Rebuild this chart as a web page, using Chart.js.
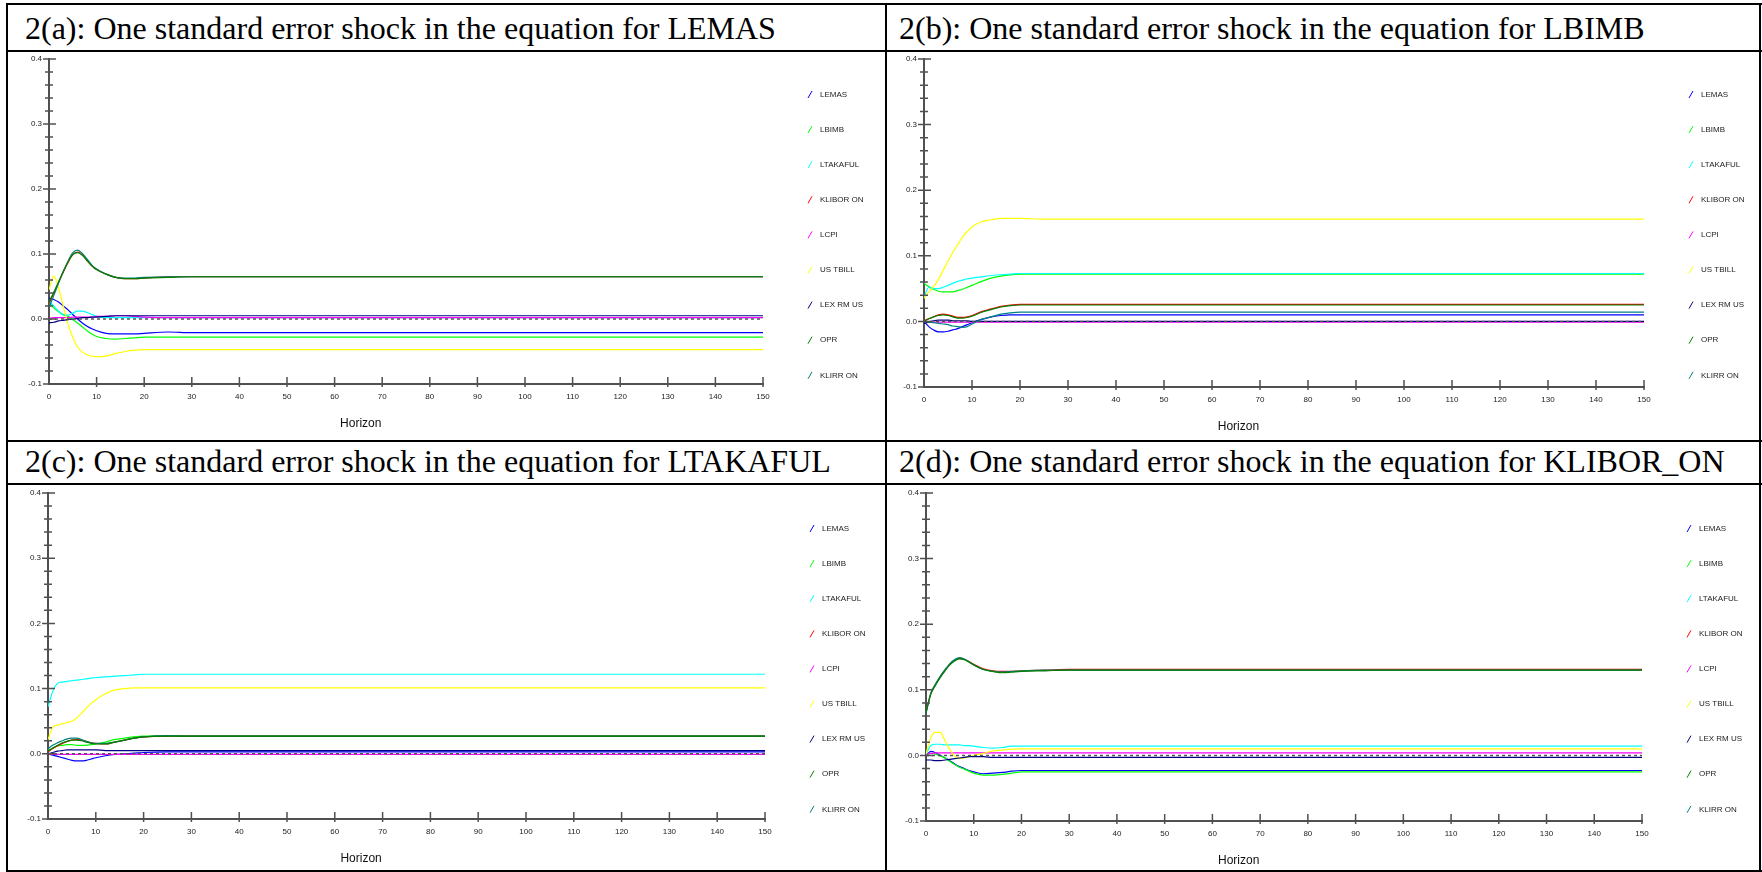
<!DOCTYPE html>
<html>
<head>
<meta charset="utf-8">
<script src="https://cdn.jsdelivr.net/npm/chart.js@4.4.1/dist/chart.umd.min.js"></script>
<style>
    html, body { margin: 0; padding: 0; background: #fff; }
    body { width: 1762px; height: 872px; position: relative; overflow: hidden; }
    .rule { position: absolute; background: #000; }
    .head { position: absolute; font: 32px/32px "Liberation Serif", "Times New Roman", serif; color: #000; white-space: nowrap; }
    canvas { position: absolute; }
</style>
</head>
<body>
<!-- table rules -->
<div class="rule" style="left:6px;top:3px;width:1756px;height:2px"></div>
<div class="rule" style="left:6px;top:50px;width:1756px;height:2px"></div>
<div class="rule" style="left:6px;top:440px;width:1756px;height:2px"></div>
<div class="rule" style="left:6px;top:483px;width:1756px;height:2px"></div>
<div class="rule" style="left:6px;top:870px;width:1756px;height:2px"></div>
<div class="rule" style="left:6px;top:3px;width:2px;height:869px"></div>
<div class="rule" style="left:885px;top:3px;width:2px;height:869px"></div>
<div class="rule" style="left:1759px;top:3px;width:2px;height:869px"></div>

<div class="head" style="left:25px;top:12px">2(a): One standard error shock in the equation for LEMAS</div>
<div class="head" style="left:899px;top:12px">2(b): One standard error shock in the equation for LBIMB</div>
<div class="head" style="left:25px;top:445px">2(c): One standard error shock in the equation for LTAKAFUL</div>
<div class="head" style="left:899px;top:445px">2(d): One standard error shock in the equation for KLIBOR_ON</div>

<canvas id="chartA" width="881" height="440" style="left:0;top:0"></canvas>
<canvas id="chartB" width="881" height="440" style="left:881px;top:0"></canvas>
<canvas id="chartC" width="881" height="432" style="left:0;top:440px"></canvas>
<canvas id="chartD" width="881" height="432" style="left:881px;top:440px"></canvas>

<script>
// horizons (curves are flat after ~30)
const HORIZON = [0, 1, 2, 3, 4, 5, 6, 7, 8, 9, 10, 12, 14, 16, 18, 20, 25, 30, 150];
const SERIES = ['LEMAS', 'LBIMB', 'LTAKAFUL', 'KLIBOR ON', 'LCPI', 'US TBILL', 'LEX RM US', 'OPR', 'KLIRR ON'];
const COLORS = ['#0000ff', '#00ff00', '#00ffff', '#ff0000', '#ff00ff', '#ffff00', '#000080', '#008000', '#008080'];
const X_TICKS = [0, 10, 20, 30, 40, 50, 60, 70, 80, 90, 100, 110, 120, 130, 140, 150];
const Y_TICKS = [-0.1, 0.0, 0.1, 0.2, 0.3, 0.4];
const X_TITLE = 'Horizon';

// 2(a) shock to LEMAS
const A_LEMAS    = [0.032, 0.030, 0.026, 0.020, 0.014, 0.007, 0.000, -0.006, -0.011, -0.015, -0.018, -0.022, -0.023, -0.023, -0.023, -0.022, -0.020, -0.021, -0.021];
const A_LBIMB    = [0.026, 0.017, 0.011, 0.007, 0.004, -0.001, -0.006, -0.012, -0.018, -0.023, -0.027, -0.030, -0.031, -0.030, -0.029, -0.028, -0.028, -0.028, -0.028];
const A_LTAKAFUL = [0.028, 0.020, 0.012, 0.006, 0.006, 0.009, 0.012, 0.012, 0.010, 0.007, 0.004, 0.002, 0.002, 0.002, 0.002, 0.002, 0.002, 0.002, 0.002];
const A_KLIBOR   = [0.024, 0.040, 0.056, 0.072, 0.087, 0.099, 0.103, 0.099, 0.090, 0.082, 0.076, 0.069, 0.064, 0.062, 0.062, 0.063, 0.065, 0.065, 0.065];
const A_LCPI     = [0.001, 0.002, 0.002, 0.002, 0.002, 0.003, 0.003, 0.003, 0.003, 0.003, 0.004, 0.004, 0.005, 0.005, 0.004, 0.003, 0.002, 0.002, 0.002];
const A_USTBILL  = [0.045, 0.066, 0.048, 0.020, -0.008, -0.028, -0.043, -0.051, -0.055, -0.057, -0.058, -0.057, -0.053, -0.050, -0.048, -0.047, -0.047, -0.047, -0.047];
const A_LEX      = [-0.006, -0.005, -0.003, -0.002, -0.001, 0.000, 0.001, 0.002, 0.002, 0.003, 0.003, 0.004, 0.005, 0.005, 0.005, 0.005, 0.005, 0.005, 0.005];
const A_OPR      = [0.026, 0.041, 0.057, 0.073, 0.088, 0.099, 0.102, 0.098, 0.090, 0.082, 0.076, 0.069, 0.064, 0.062, 0.062, 0.063, 0.064, 0.065, 0.065];
const A_KLIRR    = [0.018, 0.036, 0.055, 0.073, 0.089, 0.102, 0.106, 0.101, 0.092, 0.083, 0.077, 0.069, 0.064, 0.063, 0.063, 0.064, 0.065, 0.065, 0.065];

// 2(b) shock to LBIMB
const B_LEMAS    = [0.000, -0.008, -0.013, -0.016, -0.016, -0.015, -0.013, -0.011, -0.008, -0.005, -0.002, 0.003, 0.007, 0.009, 0.010, 0.010, 0.010, 0.010, 0.010];
const B_LBIMB    = [0.058, 0.053, 0.049, 0.046, 0.045, 0.045, 0.045, 0.047, 0.049, 0.052, 0.055, 0.061, 0.066, 0.069, 0.071, 0.072, 0.072, 0.072, 0.072];
const B_LTAKAFUL = [0.037, 0.052, 0.050, 0.050, 0.052, 0.055, 0.058, 0.061, 0.063, 0.065, 0.066, 0.068, 0.070, 0.071, 0.072, 0.073, 0.073, 0.073, 0.073];
const B_KLIBOR   = [0.001, 0.004, 0.007, 0.010, 0.011, 0.010, 0.008, 0.006, 0.006, 0.007, 0.009, 0.015, 0.019, 0.023, 0.025, 0.026, 0.026, 0.026, 0.026];
const B_LCPI     = [0.000, -0.001, -0.001, -0.001, -0.001, -0.001, -0.001, -0.001, -0.001, -0.001, -0.001, -0.001, -0.001, -0.001, -0.001, -0.001, -0.001, -0.001, -0.001];
const B_USTBILL  = [0.035, 0.045, 0.053, 0.064, 0.078, 0.092, 0.105, 0.117, 0.128, 0.137, 0.144, 0.152, 0.155, 0.157, 0.157, 0.157, 0.156, 0.156, 0.156];
const B_LEX      = [-0.003, -0.001, 0.001, 0.002, 0.002, 0.002, 0.001, 0.001, 0.001, 0.001, 0.000, 0.000, 0.000, 0.000, 0.000, 0.000, 0.000, 0.000, 0.000];
const B_OPR      = [0.000, 0.004, 0.007, 0.009, 0.010, 0.009, 0.007, 0.005, 0.005, 0.006, 0.008, 0.014, 0.018, 0.022, 0.024, 0.025, 0.025, 0.025, 0.025];
const B_KLIRR    = [0.000, -0.001, -0.002, -0.003, -0.004, -0.005, -0.007, -0.008, -0.009, -0.008, -0.004, 0.003, 0.007, 0.011, 0.013, 0.014, 0.014, 0.014, 0.014];

// 2(c) shock to LTAKAFUL
const C_LEMAS    = [0.000, -0.002, -0.004, -0.006, -0.008, -0.010, -0.011, -0.011, -0.010, -0.008, -0.006, -0.003, -0.001, 0.000, 0.001, 0.002, 0.003, 0.003, 0.003];
const C_LBIMB    = [0.005, 0.009, 0.012, 0.013, 0.014, 0.014, 0.013, 0.013, 0.013, 0.014, 0.015, 0.018, 0.022, 0.024, 0.026, 0.027, 0.027, 0.027, 0.027];
const C_LTAKAFUL = [0.072, 0.096, 0.108, 0.110, 0.111, 0.112, 0.113, 0.114, 0.115, 0.116, 0.117, 0.118, 0.119, 0.120, 0.121, 0.122, 0.122, 0.122, 0.122];
const C_KLIBOR   = [0.003, 0.008, 0.012, 0.016, 0.019, 0.021, 0.022, 0.021, 0.019, 0.017, 0.016, 0.015, 0.018, 0.021, 0.024, 0.026, 0.027, 0.027, 0.027];
const C_LCPI     = [0.000, -0.001, -0.001, -0.001, -0.001, -0.001, -0.001, -0.001, -0.001, -0.001, -0.001, -0.001, -0.001, -0.001, -0.001, -0.001, -0.001, -0.001, -0.001];
const C_USTBILL  = [0.022, 0.041, 0.044, 0.046, 0.048, 0.050, 0.055, 0.062, 0.070, 0.077, 0.083, 0.092, 0.098, 0.100, 0.101, 0.101, 0.101, 0.101, 0.101];
const C_LEX      = [0.000, 0.002, 0.004, 0.005, 0.006, 0.006, 0.006, 0.006, 0.006, 0.006, 0.006, 0.005, 0.005, 0.005, 0.005, 0.005, 0.005, 0.005, 0.005];
const C_OPR      = [0.004, 0.009, 0.013, 0.017, 0.019, 0.021, 0.021, 0.020, 0.018, 0.016, 0.015, 0.015, 0.018, 0.021, 0.024, 0.026, 0.027, 0.027, 0.027];
const C_KLIRR    = [0.008, 0.013, 0.017, 0.020, 0.023, 0.024, 0.024, 0.022, 0.019, 0.017, 0.016, 0.016, 0.018, 0.021, 0.024, 0.026, 0.028, 0.027, 0.027];

// 2(d) shock to KLIBOR_ON
const D_LEMAS    = [0.000, 0.006, 0.004, 0.000, -0.004, -0.008, -0.013, -0.017, -0.020, -0.023, -0.025, -0.028, -0.027, -0.026, -0.024, -0.023, -0.023, -0.023, -0.023];
const D_LBIMB    = [0.000, 0.003, 0.002, -0.001, -0.004, -0.009, -0.014, -0.018, -0.021, -0.024, -0.027, -0.030, -0.030, -0.029, -0.027, -0.025, -0.025, -0.025, -0.025];
const D_LTAKAFUL = [0.002, 0.015, 0.017, 0.017, 0.016, 0.016, 0.016, 0.016, 0.015, 0.015, 0.014, 0.012, 0.011, 0.012, 0.014, 0.014, 0.014, 0.014, 0.014];
const D_KLIBOR   = [0.066, 0.094, 0.108, 0.120, 0.130, 0.139, 0.145, 0.148, 0.147, 0.143, 0.139, 0.132, 0.129, 0.128, 0.128, 0.129, 0.130, 0.131, 0.131];
const D_LCPI     = [0.001, 0.003, 0.004, 0.004, 0.004, 0.004, 0.004, 0.004, 0.004, 0.004, 0.004, 0.004, 0.004, 0.004, 0.004, 0.004, 0.004, 0.004, 0.004];
const D_USTBILL  = [0.002, 0.027, 0.035, 0.035, 0.022, 0.009, -0.001, -0.005, -0.004, -0.002, 0.000, 0.003, 0.007, 0.008, 0.0095, 0.010, 0.010, 0.010, 0.010];
const D_LEX      = [-0.007, -0.007, -0.008, -0.008, -0.007, -0.006, -0.005, -0.004, -0.003, -0.002, -0.002, -0.002, -0.003, -0.003, -0.003, -0.003, -0.003, -0.003, -0.003];
const D_OPR      = [0.065, 0.093, 0.107, 0.119, 0.129, 0.138, 0.144, 0.147, 0.146, 0.142, 0.138, 0.131, 0.128, 0.126, 0.127, 0.128, 0.129, 0.130, 0.130];
const D_KLIRR    = [0.064, 0.095, 0.109, 0.121, 0.131, 0.140, 0.146, 0.149, 0.147, 0.143, 0.138, 0.131, 0.128, 0.127, 0.128, 0.129, 0.130, 0.130, 0.130];

// plot area of each panel in page pixels, canvas origin
const PANELS = [
    { id: 'chartA', origin: [0, 0],     area: { left: 49,  top: 59,  right: 763,  bottom: 384 },
      values: [A_LEMAS, A_LBIMB, A_LTAKAFUL, A_KLIBOR, A_LCPI, A_USTBILL, A_LEX, A_OPR, A_KLIRR] },
    { id: 'chartB', origin: [881, 0],   area: { left: 924, top: 59,  right: 1644, bottom: 387 },
      values: [B_LEMAS, B_LBIMB, B_LTAKAFUL, B_KLIBOR, B_LCPI, B_USTBILL, B_LEX, B_OPR, B_KLIRR] },
    { id: 'chartC', origin: [0, 440],   area: { left: 48,  top: 493, right: 765,  bottom: 819 },
      values: [C_LEMAS, C_LBIMB, C_LTAKAFUL, C_KLIBOR, C_LCPI, C_USTBILL, C_LEX, C_OPR, C_KLIRR] },
    { id: 'chartD', origin: [881, 440], area: { left: 926, top: 493, right: 1642, bottom: 821 },
      values: [D_LEMAS, D_LBIMB, D_LTAKAFUL, D_KLIBOR, D_LCPI, D_USTBILL, D_LEX, D_OPR, D_KLIRR] }
];

const AXIS_COLOR = '#505050';
const TEXT_COLOR = '#222';
const TICK_FONT = { family: '"Liberation Sans", Arial, sans-serif', size: 8 };

// crossing tick marks, side legend with "/" keys, and the Horizon caption
const axisDecor = {
    id: 'axisDecor',
    afterDraw(chart, args, opts) {
        const { ctx, chartArea: ca, scales: { x, y } } = chart;
        ctx.save();
        ctx.strokeStyle = AXIS_COLOR;
        ctx.lineWidth = 1.5;
        ctx.beginPath();
        for (let k = -5; k <= 20; k++) {
            const py = y.getPixelForValue(k / 50);
            const major = k % 5 === 0;
            ctx.moveTo(ca.left - (major ? 6 : 4), py);
            ctx.lineTo(ca.left + (major ? 7 : 4), py);
        }
        X_TICKS.forEach(v => {
            if (v === 0) return;
            const px = x.getPixelForValue(v);
            ctx.moveTo(px, ca.bottom - 7);
            ctx.lineTo(px, ca.bottom + 3);
        });
        ctx.stroke();

        ctx.font = '8px "Liberation Sans", Arial, sans-serif';
        ctx.textBaseline = 'middle';
        ctx.textAlign = 'left';
        let i = 0;
        chart.data.datasets.forEach(ds => {
            if (!ds.label) return;
            const ly = ca.top + opts.legendTop + i * opts.legendGap;
            const lx = ca.right + opts.markerX;
            ctx.strokeStyle = ds.borderColor;
            ctx.lineWidth = 1;
            ctx.beginPath();
            ctx.moveTo(lx - 2, ly + 3.5);
            ctx.lineTo(lx + 2, ly - 3.5);
            ctx.stroke();
            ctx.fillStyle = TEXT_COLOR;
            ctx.fillText(ds.label, ca.right + opts.textX, ly);
            i++;
        });

        ctx.font = '12px "Liberation Sans", Arial, sans-serif';
        ctx.textAlign = 'center';
        ctx.fillStyle = '#111';
        ctx.fillText(X_TITLE, x.getPixelForValue(65.5), ca.bottom + opts.titleY);
        ctx.restore();
    }
};

function renderPanel(p) {
    const canvas = document.getElementById(p.id);
    const W = canvas.width, H = canvas.height;
    const a = {
        left: p.area.left - p.origin[0], right: p.area.right - p.origin[0],
        top: p.area.top - p.origin[1], bottom: p.area.bottom - p.origin[1]
    };

    // later series paint over earlier ones, OPR ends up on top as in the original
    const datasets = SERIES.map((name, i) => ({
        label: name,
        data: p.values[i],
        borderColor: COLORS[i],
        borderWidth: 1.2,
        pointRadius: 0,
        fill: false,
        cubicInterpolationMode: 'monotone',
        order: name === 'OPR' ? -9 : -i
    }));
    // dashed zero reference
    datasets.push({
        label: '',
        data: [{ x: 0, y: 0 }, { x: 150, y: 0 }],
        borderColor: '#555',
        borderWidth: 1.5,
        borderDash: [3, 3],
        pointRadius: 0,
        order: -20
    });

    new Chart(canvas, {
        type: 'line',
        data: { labels: HORIZON, datasets },
        options: {
            responsive: false,
            animation: false,
            devicePixelRatio: 1,
            layout: { padding: { left: 0, top: a.top, right: W - a.right, bottom: 0 } },
            plugins: {
                legend: { display: false },
                tooltip: { enabled: false },
                axisDecor: { legendTop: 35.5, legendGap: 35.1, markerX: 47, textX: 57, titleY: 40 }
            },
            scales: {
                x: {
                    type: 'linear', min: 0, max: 150,
                    afterBuildTicks: s => { s.ticks = X_TICKS.map(v => ({ value: v })); },
                    afterFit: s => { s.height = H - a.bottom; },
                    ticks: { font: TICK_FONT, color: TEXT_COLOR, padding: 8, maxRotation: 0, autoSkip: false },
                    grid: { display: false, drawTicks: false },
                    border: { color: AXIS_COLOR, width: 2 }
                },
                y: {
                    min: -0.1, max: 0.4,
                    afterBuildTicks: s => { s.ticks = Y_TICKS.map(v => ({ value: v })); },
                    afterFit: s => { s.width = a.left; },
                    ticks: { font: TICK_FONT, color: TEXT_COLOR, padding: 7, autoSkip: false, callback: v => v.toFixed(1) },
                    grid: { display: false, drawTicks: false },
                    border: { color: AXIS_COLOR, width: 2 }
                }
            }
        },
        plugins: [axisDecor]
    });
}

PANELS.forEach(renderPanel);
</script>
</body>
</html>
